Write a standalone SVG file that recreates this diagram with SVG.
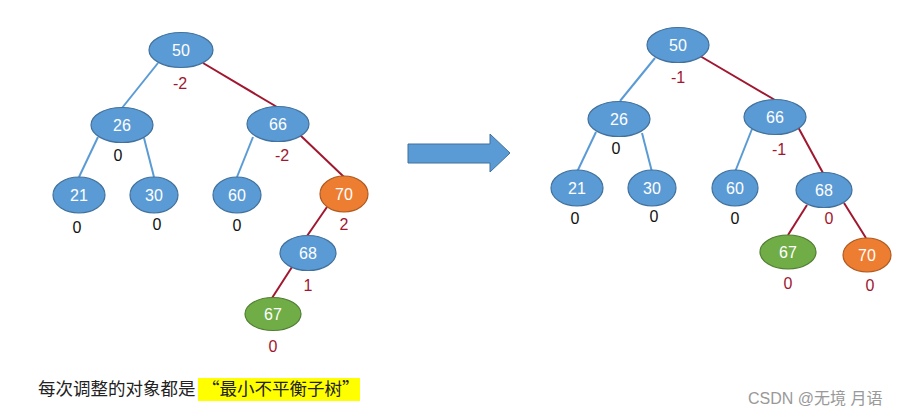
<svg xmlns="http://www.w3.org/2000/svg" width="915" height="416" viewBox="0 0 915 416">
<style>
.n{stroke:#41719C;stroke-width:1.2}
.b{fill:#5B9BD5}
.o{fill:#ED7D31;stroke:#AE5A21}
.g{fill:#70AD47;stroke:#507E32}
.t{font-family:"Liberation Sans",Arial,sans-serif;font-size:16px;fill:#fff;text-anchor:middle;dominant-baseline:central}
.e{stroke-width:2;fill:none}
.eb{stroke:#5B9BD5}
.er{stroke:#A0172F}
.l{font-family:"Liberation Sans",Arial,sans-serif;font-size:16px;text-anchor:middle;dominant-baseline:central}
.lr{fill:#A0172F}
.lk{fill:#111}
.cap{font-family:"Noto Sans CJK SC",sans-serif;font-size:17.5px;fill:#222}
</style>
<g id="connectors">
<line class="e eb" x1="158" y1="63" x2="122" y2="108"/>
<line class="e er" x1="203" y1="63" x2="277" y2="107"/>
<line class="e eb" x1="98" y1="137" x2="79" y2="177"/>
<line class="e eb" x1="144" y1="138" x2="154" y2="177"/>
<line class="e eb" x1="253" y1="137" x2="237" y2="177"/>
<line class="e er" x1="300" y1="135" x2="344" y2="177"/>
<line class="e er" x1="327" y1="207" x2="307" y2="236"/>
<line class="e er" x1="292" y1="267" x2="272" y2="298"/>
<line class="e eb" x1="655" y1="58" x2="620" y2="101"/>
<line class="e er" x1="700" y1="56" x2="775" y2="100"/>
<line class="e eb" x1="596" y1="132" x2="577" y2="172"/>
<line class="e eb" x1="642" y1="133" x2="652" y2="172"/>
<line class="e eb" x1="752" y1="129" x2="735" y2="172"/>
<line class="e er" x1="798" y1="127" x2="823" y2="173"/>
<line class="e er" x1="807" y1="205" x2="788" y2="235"/>
<line class="e er" x1="844" y1="203" x2="866" y2="238"/>
</g>
<g id="L50"><ellipse class="n b" cx="181" cy="50" rx="32" ry="17.5"/><text class="t" x="181" y="50">50</text><text class="l lr" x="180" y="83">-2</text></g>
<g id="L26"><ellipse class="n b" cx="122" cy="125" rx="31" ry="17.5"/><text class="t" x="122" y="125">26</text><text class="l lk" x="118" y="155">0</text></g>
<g id="L66"><ellipse class="n b" cx="278" cy="124" rx="31" ry="17.5"/><text class="t" x="278" y="124">66</text><text class="l lr" x="282" y="155">-2</text></g>
<g id="L21"><ellipse class="n b" cx="79" cy="195" rx="26" ry="18"/><text class="t" x="79" y="195">21</text><text class="l lk" x="77" y="227">0</text></g>
<g id="L30"><ellipse class="n b" cx="154" cy="195" rx="24" ry="18"/><text class="t" x="154" y="195">30</text><text class="l lk" x="157" y="224">0</text></g>
<g id="L60"><ellipse class="n b" cx="237" cy="195" rx="24" ry="18"/><text class="t" x="237" y="195">60</text><text class="l lk" x="237" y="225">0</text></g>
<g id="L70"><ellipse class="n o" cx="344" cy="194" rx="24" ry="18"/><text class="t" x="344" y="194">70</text><text class="l lr" x="344" y="224">2</text></g>
<g id="L68"><ellipse class="n b" cx="308" cy="253" rx="28" ry="17.5"/><text class="t" x="308" y="253">68</text><text class="l lr" x="308" y="285">1</text></g>
<g id="L67"><ellipse class="n g" cx="273" cy="314" rx="28" ry="16.5"/><text class="t" x="273" y="314">67</text><text class="l lr" x="273" y="346">0</text></g>
<g id="arrow"><polygon points="408,144 490,144 490,134 510,153 490,172 490,163 408,163" fill="#5B9BD5" stroke="#41719C" stroke-width="1"/></g>
<g id="R50"><ellipse class="n b" cx="678" cy="45" rx="31" ry="17.5"/><text class="t" x="678" y="45">50</text><text class="l lr" x="678" y="77">-1</text></g>
<g id="R26"><ellipse class="n b" cx="619" cy="119" rx="31" ry="17.5"/><text class="t" x="619" y="119">26</text><text class="l lk" x="616" y="148">0</text></g>
<g id="R66"><ellipse class="n b" cx="775" cy="117" rx="31" ry="17.5"/><text class="t" x="775" y="117">66</text><text class="l lr" x="779" y="149">-1</text></g>
<g id="R21"><ellipse class="n b" cx="577" cy="188" rx="26" ry="18"/><text class="t" x="577" y="188">21</text><text class="l lk" x="575" y="218">0</text></g>
<g id="R30"><ellipse class="n b" cx="652" cy="188" rx="24" ry="18"/><text class="t" x="652" y="188">30</text><text class="l lk" x="654" y="216">0</text></g>
<g id="R60"><ellipse class="n b" cx="735" cy="188" rx="23" ry="18"/><text class="t" x="735" y="188">60</text><text class="l lk" x="735" y="218">0</text></g>
<g id="R68"><ellipse class="n b" cx="824" cy="190" rx="28" ry="17.5"/><text class="t" x="824" y="190">68</text><text class="l lr" x="829" y="218">0</text></g>
<g id="R67"><ellipse class="n g" cx="788" cy="252" rx="28" ry="17"/><text class="t" x="788" y="252">67</text><text class="l lr" x="788" y="283">0</text></g>
<g id="R70"><ellipse class="n o" cx="867" cy="255" rx="24" ry="17"/><text class="t" x="867" y="255">70</text><text class="l lr" x="870" y="285">0</text></g>
<g id="caption">
<rect x="198" y="378" width="162" height="23" fill="#FFFF00"/>
<text class="cap" x="38" y="395">每次调整的对象都是<tspan x="202">“最小不平衡子树”</tspan></text>
</g>
<text x="748" y="404" font-family="'Liberation Sans','Noto Sans CJK SC',sans-serif" font-size="16" fill="#999">CSDN @无境 月语</text>
</svg>
